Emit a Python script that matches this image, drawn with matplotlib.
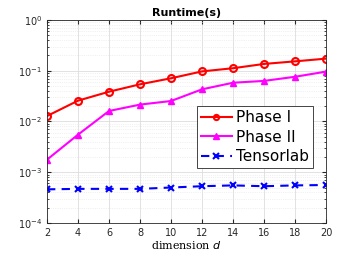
import matplotlib
matplotlib.use("Agg")
import matplotlib.pyplot as plt
from matplotlib.ticker import LogLocator, NullFormatter

d = [2, 4, 6, 8, 10, 12, 14, 16, 18, 20]
phase1 = [0.0128, 0.0257, 0.0386, 0.054, 0.071, 0.097, 0.112, 0.136, 0.153, 0.173]
phase2 = [0.00177, 0.0055, 0.0161, 0.0215, 0.0253, 0.043, 0.058, 0.063, 0.076, 0.096]
tensorlab = [0.00046, 0.00047, 0.00047, 0.00047, 0.0005, 0.00053, 0.00055, 0.00053, 0.00055, 0.00056]
xticks = [2, 4, 6, 8, 10, 12, 14, 16, 18, 20]

fig = plt.figure(figsize=(3.6, 2.56), dpi=100)
ax = fig.add_axes([0.1306, 0.129, 0.775, 0.793])

ax.semilogy(d, phase1, color='#ff0000', marker='o', markersize=5, markerfacecolor='none',
            markeredgewidth=1.5, linewidth=1.5, label='Phase I')
ax.semilogy(d, phase2, color='#ff00ff', marker='^', markersize=5, markerfacecolor='#ff00ff',
            linewidth=1.5, label='Phase II')
ax.semilogy(d, tensorlab, color='#0000ff', marker='x', markersize=5, markeredgewidth=1.5,
            linestyle=(0, (4, 3)), linewidth=1.5, label='Tensorlab')

ax.set_xlim(2, 20)
ax.set_ylim(1e-4, 1e0)
ax.set_xticks(xticks)
ax.set_xticklabels([str(t) for t in xticks])
ax.yaxis.set_major_locator(LogLocator(base=10, numticks=10))
ax.yaxis.set_minor_locator(LogLocator(base=10, subs=range(2, 10), numticks=100))
ax.yaxis.set_minor_formatter(NullFormatter())

ax.grid(True, which='major', color='#dddddd', linewidth=0.6, linestyle='-')
ax.grid(True, which='minor', axis='y', color='#e4e4e4', linewidth=0.5, linestyle=':')
ax.set_axisbelow(True)

ax.tick_params(which='both', direction='in', top=True, right=True, labelsize=7,
               colors='#262626', length=3)
ax.tick_params(which='minor', length=1.5)
for s in ax.spines.values():
    s.set_color('#262626')
    s.set_linewidth(0.6)

ax.set_title('Runtime(s)', fontsize=8, fontweight='bold', pad=3)
ax.set_xlabel('dimension $d$', fontsize=8, family='serif', labelpad=1)

leg = ax.legend(loc='lower right', bbox_to_anchor=(0.953, 0.27), fontsize=11,
                fancybox=False, edgecolor='#262626', framealpha=1, markerscale=0.75,
                handlelength=2.0, handletextpad=0.3, borderpad=0.25, labelspacing=0.3,
                borderaxespad=0)
leg.get_frame().set_linewidth(0.6)

fig.savefig('out.png', dpi=100)
